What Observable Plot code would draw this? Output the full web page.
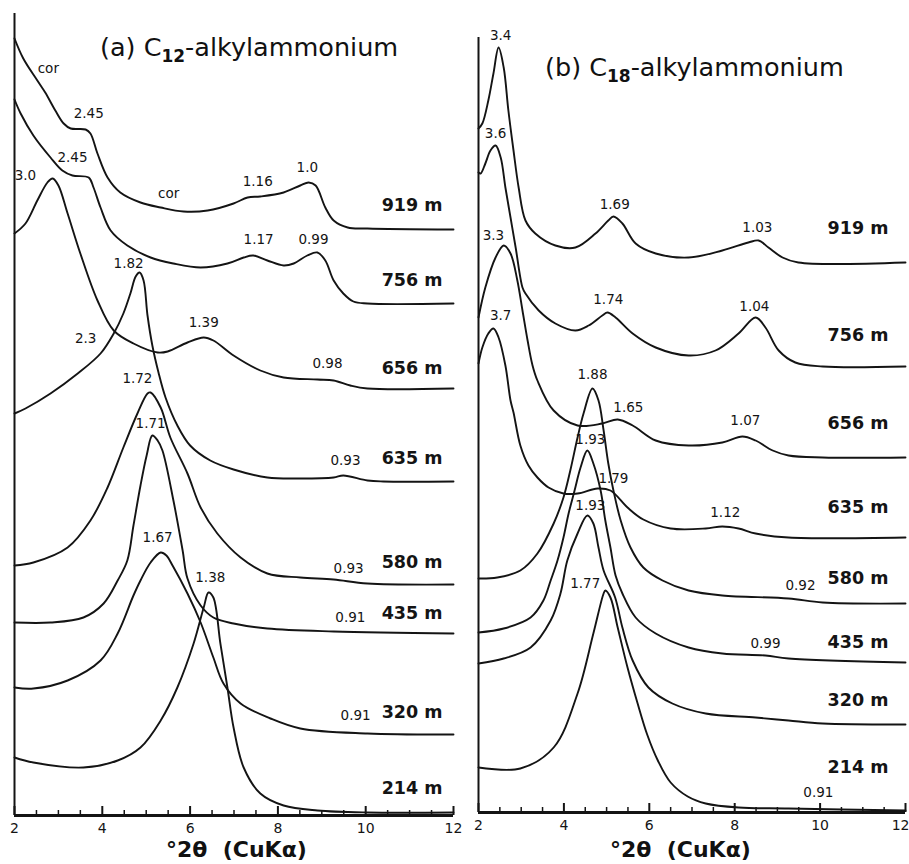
<!DOCTYPE html>
<html><head><meta charset="utf-8">
<script src="https://cdn.jsdelivr.net/npm/d3@7"></script>
<script src="https://cdn.jsdelivr.net/npm/@observablehq/plot@0.6"></script>
<style>
body{margin:0;background:#fff;}
#wrap{position:relative;width:909px;height:864px;overflow:hidden;font-family:"DejaVu Sans",sans-serif;color:#111;}
.panel{position:absolute;top:0;}
.title{position:absolute;font-size:25.5px;line-height:1;white-space:nowrap;}
.title .sub{font-size:17px;font-weight:bold;position:relative;top:6px;}
.xlab{position:absolute;font-size:22px;font-weight:bold;line-height:1;white-space:pre;}
</style></head>
<body>
<div id="wrap">
  <div id="pa" class="panel" style="left:0px"></div>
  <div id="pb" class="panel" style="left:455px"></div>
  <div class="title" style="left:100px;top:35px">(a) C<span class="sub">12</span>-alkylammonium</div>
  <div class="title" style="left:545px;top:55px">(b) C<span class="sub">18</span>-alkylammonium</div>
  <div class="xlab" style="left:166px;top:839px">°2θ  (CuKα)</div>
  <div class="xlab" style="left:610px;top:839px">°2θ  (CuKα)</div>
</div>
<script>
// ---------- Panel (a) C12-alkylammonium : [°2θ, intensity (arb.)] ----------
const a919 = [[2.0,777],[2.2,757],[2.52,735],[2.7,723],[2.93,705],[3.12,692],[3.28,687],[3.62,686],[3.73,682],[3.89,662],[4.12,638],[4.41,623],[4.87,613],[5.33,608],[5.85,604],[6.4,605],[6.99,612],[7.31,618],[7.6,619],[8.13,623],[8.51,630],[8.7,633],[8.86,630],[9.08,608],[9.27,595],[9.59,588],[10.04,587],[12,586]];
const a756 = [[2.0,716],[2.14,702],[2.43,680],[2.82,658],[3.09,645],[3.32,640],[3.69,638],[3.8,628],[3.96,608],[4.19,585],[4.57,570],[5.1,558],[5.62,552],[6.24,548],[6.85,552],[7.22,558],[7.44,560],[7.76,555],[8.13,550],[8.36,552],[8.67,560],[8.9,563],[9.08,555],[9.27,535],[9.49,522],[9.72,514],[10.04,512],[12,512]];
const a656 = [[2.0,582],[2.25,592],[2.52,615],[2.75,633],[2.87,637],[3.0,630],[3.21,602],[3.5,562],[3.89,515],[4.26,485],[4.71,472],[5.26,463],[5.49,464],[5.94,473],[6.31,478],[6.53,475],[6.99,460],[7.6,445],[8.13,438],[8.9,436],[9.27,435],[9.65,430],[10.04,427],[12,427]];
const a635 = [[2.0,402],[2.25,407],[2.82,422],[3.44,442],[3.96,462],[4.26,482],[4.48,502],[4.64,522],[4.76,539],[4.85,543],[4.94,535],[5.03,500],[5.14,470],[5.28,443],[5.44,418],[5.71,390],[6.0,370],[6.46,355],[6.99,346],[7.76,338],[8.51,337],[9.27,338],[9.49,340],[10.04,335],[10.4,334],[12,334]];
const a580 = [[2.0,250],[2.43,253],[3.21,268],[3.73,295],[4.12,328],[4.48,368],[4.8,402],[5.03,422],[5.1,423],[5.33,408],[5.55,378],[5.94,342],[6.24,308],[6.62,282],[7.15,258],[7.76,242],[8.51,238],[9.27,236],[10.04,232],[12,231]];
const a435 = [[2.0,193],[2.82,193],[3.57,198],[4.03,212],[4.35,235],[4.57,255],[4.71,290],[4.87,330],[5.01,360],[5.14,380],[5.26,375],[5.37,365],[5.62,315],[5.83,265],[5.94,237],[6.24,210],[6.53,198],[6.99,192],[7.76,187],[9.27,184],[12,182]];
const a320 = [[2.0,128],[2.43,127],[3.21,135],[3.96,155],[4.35,182],[4.71,220],[4.87,235],[5.1,253],[5.33,263],[5.46,260],[5.6,250],[5.94,222],[6.24,193],[6.53,158],[6.76,132],[7.15,112],[7.83,97],[8.51,87],[10.04,82],[12,81]];
const a214 = [[2.0,58],[2.43,53],[3.57,48],[4.35,55],[4.87,68],[5.33,95],[5.71,128],[6.08,172],[6.31,208],[6.42,223],[6.53,218],[6.69,172],[6.85,128],[6.99,88],[7.22,48],[7.6,22],[8.13,10],[8.9,5],[10.04,3],[12,3]];
const aPeakLabels = [[2.77,747,"cor"],[3.69,702,"2.45"],[3.32,658,"2.45"],[2.25,640,"3.0"],[5.51,622,"cor"],[7.54,634,"1.16"],[8.67,648,"1.0"],[7.56,576,"1.17"],[8.81,576,"0.99"],[4.6,552,"1.82"],[3.62,477,"2.3"],[6.31,493,"1.39"],[9.13,452,"0.98"],[4.8,437,"1.72"],[5.1,392,"1.71"],[9.54,355,"0.93"],[5.26,278,"1.67"],[9.61,247,"0.93"],[6.46,238,"1.38"],[9.65,198,"0.91"],[9.77,100,"0.91"]];
const aDepths = [["919 m",610],["756 m",535],["656 m",447],["635 m",357],["580 m",253],["435 m",202],["320 m",103],["214 m",27]];

// ---------- Panel (b) C18-alkylammonium ----------
const b919 = [[2.0,684],[2.09,689],[2.23,712],[2.35,739],[2.47,765],[2.59,745],[2.7,702],[2.82,662],[2.94,625],[3.1,592],[3.33,579],[3.8,567],[4.27,565],[4.74,579],[5.04,592],[5.16,596],[5.37,589],[5.68,569],[6.15,559],[6.92,555],[7.71,562],[8.32,570],[8.56,572],[8.79,565],[9.12,555],[9.49,550],[12,550]];
const b756 = [[2.0,640],[2.05,639],[2.16,649],[2.28,662],[2.4,667],[2.52,655],[2.63,625],[2.75,595],[2.87,565],[3.03,525],[3.1,519],[3.41,502],[3.8,489],[4.27,482],[4.58,487],[4.9,497],[5.02,500],[5.21,495],[5.61,479],[6.15,465],[6.92,457],[7.55,462],[8.09,479],[8.49,495],[8.72,485],[9.03,462],[9.42,450],[10.06,446],[12,446]];
const b656 = [[2.0,495],[2.16,525],[2.4,555],[2.59,567],[2.75,559],[2.91,532],[3.03,502],[3.15,472],[3.26,448],[3.38,432],[3.76,402],[4.32,387],[4.9,389],[5.26,393],[5.61,387],[6.15,372],[6.92,367],[7.71,370],[8.18,376],[8.49,372],[8.89,362],[9.26,357],[10.06,355],[12,355]];
const b635 = [[2.0,449],[2.09,465],[2.23,479],[2.35,484],[2.47,475],[2.63,447],[2.75,412],[2.82,400],[2.98,367],[3.17,347],[3.38,335],[3.64,325],[3.99,319],[4.32,319],[4.79,324],[5.09,322],[5.49,305],[5.86,293],[6.5,284],[7.32,284],[7.71,286],[8.09,284],[8.49,279],[9.26,275],[12,275]];
const b580 = [[2.0,234],[2.44,235],[2.98,242],[3.38,259],[3.76,289],[3.99,315],[4.15,342],[4.32,375],[4.46,399],[4.67,424],[4.81,412],[4.93,382],[5.04,349],[5.16,322],[5.33,292],[5.56,265],[5.86,245],[6.31,232],[6.92,222],[7.71,217],[9.26,214],[10.06,210],[12,209]];
const b435 = [[2.0,180],[2.59,184],[3.22,195],[3.52,212],[3.69,232],[3.85,252],[3.99,275],[4.11,299],[4.25,322],[4.39,345],[4.55,362],[4.69,349],[4.86,322],[4.97,292],[5.09,265],[5.21,237],[5.37,219],[5.68,195],[6.15,179],[6.92,165],[7.71,159],[8.72,157],[9.26,154],[12,150]];
const b320 = [[2.0,149],[2.59,154],[3.22,165],[3.69,192],[3.92,219],[4.08,252],[4.32,279],[4.55,297],[4.69,289],[4.81,265],[4.93,242],[5.2,215],[5.37,185],[5.61,152],[5.98,125],[6.54,109],[7.32,99],[8.49,95],[9.26,92],[10.06,89],[12,88]];
const b214 = [[2.0,45],[2.98,44],[3.76,65],[4.32,119],[4.69,179],[4.93,219],[4.97,222],[5.09,215],[5.26,185],[5.49,145],[5.72,110],[5.95,78],[6.2,52],[6.5,30],[6.9,16],[7.32,9],[8.09,5],[9.26,4],[12,2]];
const bPeakLabels = [[2.52,777,"3.4"],[2.4,679,"3.6"],[5.19,608,"1.69"],[8.53,585,"1.03"],[2.35,577,"3.3"],[5.04,513,"1.74"],[8.46,506,"1.04"],[2.52,497,"3.7"],[4.67,438,"1.88"],[5.51,405,"1.65"],[8.25,392,"1.07"],[4.62,373,"1.93"],[5.16,334,"1.79"],[7.78,300,"1.12"],[4.62,307,"1.93"],[4.5,229,"1.77"],[9.54,227,"0.92"],[8.72,169,"0.99"],[9.96,20,"0.91"]];
const bDepths = [["919 m",584],["756 m",477],["656 m",389],["635 m",305],["580 m",234],["435 m",170],["320 m",112],["214 m",45]];

const majorTicks = [2,4,6,8,10,12];
const minorTicks = [2.5,3,3.5,4.5,5,5.5,6.5,7,7.5,8.5,9,9.5,10.5,11,11.5];

const ink = "#141414";
const FONT = "DejaVu Sans, sans-serif";

function panel(traces, peakLabels, depths, depthX, o) {
  const inner = o.endLast ? majorTicks.slice(0, -1) : majorTicks;
  const last = o.endLast ? majorTicks.slice(-1) : [];
  return Plot.plot({
    width: o.width, height: 864,
    marginLeft: o.ml, marginRight: o.mr, marginTop: o.mt, marginBottom: o.mb,
    x: {domain: [2, 12], axis: null},
    y: {domain: [0, o.ymax], axis: null},
    style: {overflow: "visible", background: "transparent", fontFamily: FONT, color: ink},
    marks: [
      Plot.ruleX([2], {stroke: ink, strokeWidth: 2}),
      Plot.ruleY([0], {stroke: ink, strokeWidth: 3}),
      Plot.ruleX(minorTicks, {y1: 0, y2: 5, stroke: ink, strokeWidth: 1.5}),
      Plot.ruleX(majorTicks, {y1: 0, y2: 9, stroke: ink, strokeWidth: 2}),
      Plot.text(inner, {x: d => d, y: 0, dy: 8, lineAnchor: "top", text: d => String(d), fontSize: 14, fill: ink}),
      Plot.text(last, {x: d => d, y: 0, dy: 8, dx: 4, lineAnchor: "top", textAnchor: "end", text: d => String(d), fontSize: 14, fill: ink}),
      ...traces.map(t => Plot.line(t, {x: d => d[0], y: d => d[1], curve: "catmull-rom", stroke: ink, strokeWidth: 1.9})),
      Plot.text(peakLabels, {x: d => d[0], y: d => d[1], text: d => d[2], fontSize: 13.5, fill: ink}),
      Plot.text(depths, {x: () => depthX, y: d => d[1], text: d => d[0], textAnchor: "end", fontSize: 17.5, fontWeight: "bold", fill: ink})
    ]
  });
}

document.getElementById("pa").appendChild(panel([a919,a756,a656,a635,a580,a435,a320,a214], aPeakLabels, aDepths, 11.75,
  {width: 460, ml: 14, mr: 7, mt: 13, mb: 49, ymax: 802, endLast: false}));
document.getElementById("pb").appendChild(panel([b919,b756,b656,b635,b580,b435,b320,b214], bPeakLabels, bDepths, 11.6,
  {width: 454, ml: 23, mr: 4, mt: 37, mb: 52, ymax: 775, endLast: true}));
</script>
</body></html>
